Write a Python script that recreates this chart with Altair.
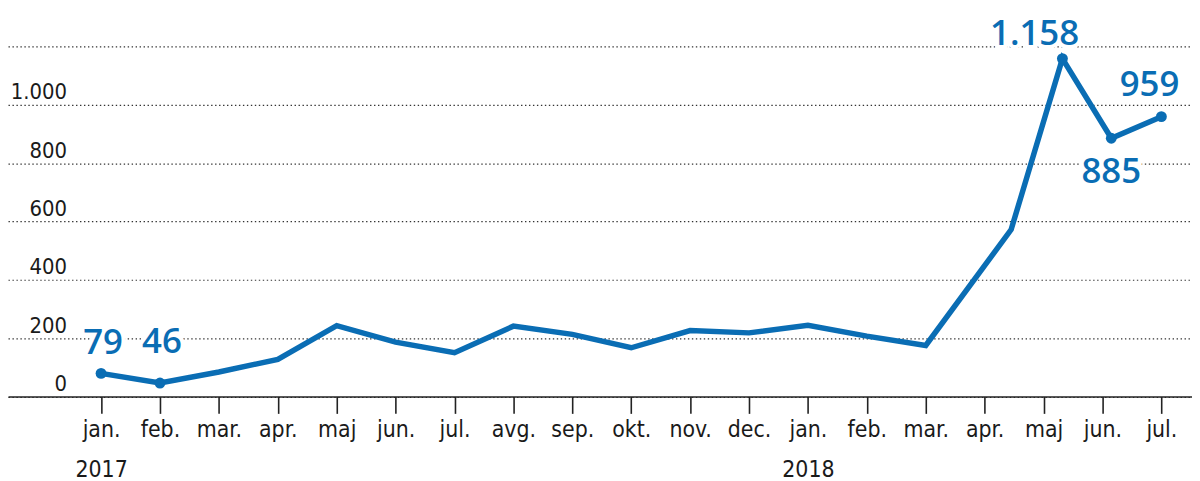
import altair as alt
import pandas as pd

# month index (position along time axis) and values
month_pos = [0, 1, 2, 3, 4, 5, 6, 7, 8, 9, 10, 11, 12, 13, 14, 15.45, 16.32, 17.15, 18]
values = [79, 46, 84, 127, 243, 186, 150, 241, 213, 167, 226, 218, 244, 207, 175, 572, 1158, 885, 959]
dot_flags = [1, 1, 0, 0, 0, 0, 0, 0, 0, 0, 0, 0, 0, 0, 0, 0, 1, 1, 1]

tick_months = ["jan.", "feb.", "mar.", "apr.", "maj", "jun.", "jul.", "avg.", "sep.",
               "okt.", "nov.", "dec.", "jan.", "feb.", "mar.", "apr.", "maj", "jun.", "jul."]
tick_years = ["2017", "", "", "", "", "", "", "", "", "", "", "", "2018", "", "", "", "", "", ""]

y_ticks = [0, 200, 400, 600, 800, 1000, 1200]

label_text = ["79", "46", "1.158", "885", "959"]
label_idx = [0, 1, 16, 17, 18]

BLUE = "#0a6db4"
AXFONT = "'DejaVu Sans Condensed', 'Liberation Sans Narrow', 'Open Sans', sans-serif"
LBLFONT = "'Open Sans', 'Noto Sans', sans-serif"

df = pd.DataFrame({"x": month_pos, "v": values, "dot": dot_flags})
lab = pd.DataFrame({
    "x": [month_pos[i] for i in label_idx],
    "v": [values[i] for i in label_idx],
    "t": label_text,
})

parts = []
for m, y in zip(tick_months, tick_years):
    if y:
        parts.append(f"['{m}','{y}']")
    else:
        parts.append(f"'{m}'")
label_expr = "[" + ",".join(parts) + "][datum.value]"

x_scale = alt.Scale(domain=[-1.58, 18.52], nice=False, zero=False)
y_scale = alt.Scale(domain=[0, 1326], nice=False)

x_axis = alt.Axis(
    values=list(range(19)), labelExpr=label_expr, title=None, grid=False,
    domainColor="#222222", domainWidth=1.6, tickColor="#222222", tickWidth=1.6,
    tickSize=17, labelPadding=5, labelFont=AXFONT, labelFontSize=23,
    labelColor="#1a1a1a", labelLineHeight=41, labelBaseline="top", labelFlush=False,
    labelOverlap=False,
)
y_axis = alt.Axis(
    values=y_ticks, title=None, domain=False, ticks=False, grid=True,
    gridColor="#333333", gridDash=[1.4, 2.6], gridWidth=1.2,
    labelExpr="datum.value == 1200 ? '' : replace(format(datum.value, ','), ',', '.')",
    labelAlign="right", labelPadding=-59, labelBaseline="alphabetic", labelOffset=-6,
    labelFont=AXFONT, labelFontSize=22, labelColor="#1a1a1a",
    labelFlush=False, labelOverlap=False,
)

base = alt.Chart(df)
line = base.mark_line(color=BLUE, strokeWidth=5.5, strokeJoin="miter").encode(
    x=alt.X("x:Q", scale=x_scale, axis=x_axis),
    y=alt.Y("v:Q", scale=y_scale, axis=y_axis),
)
dots = base.transform_filter("datum.dot == 1").mark_circle(color=BLUE, opacity=1, size=120).encode(
    x=alt.X("x:Q", scale=x_scale),
    y=alt.Y("v:Q", scale=y_scale),
)

# label offsets (dx, dy) per label, in pixels
offsets = {"79": (2, -20), "46": (2, -30), "1.158": (-28, -14), "885": (0, 45), "959": (-12, -21)}

label_layers = []
for t, (dx, dy) in offsets.items():
    sub = alt.Chart(lab).transform_filter(f"datum.t == '{t}'")
    common = dict(font=LBLFONT, fontSize=35, fontWeight=600, align="center",
                  baseline="alphabetic", dx=dx, dy=dy)
    halo = sub.mark_text(color="white", stroke="white", strokeWidth=8, **common).encode(
        x=alt.X("x:Q", scale=x_scale), y=alt.Y("v:Q", scale=y_scale), text="t:N")
    txt = sub.mark_text(color=BLUE, **common).encode(
        x=alt.X("x:Q", scale=x_scale), y=alt.Y("v:Q", scale=y_scale), text="t:N")
    label_layers += [halo, txt]

chart = alt.layer(line, dots, *label_layers).properties(
    width=1192, height=389.5,
    padding={"left": 0, "top": 0, "right": 0, "bottom": 85},
    autosize=alt.AutoSizeParams(type="none"),
    background="white",
).configure_view(stroke=None)

chart.save("out.html", embed_options={"renderer": "svg", "actions": False})
